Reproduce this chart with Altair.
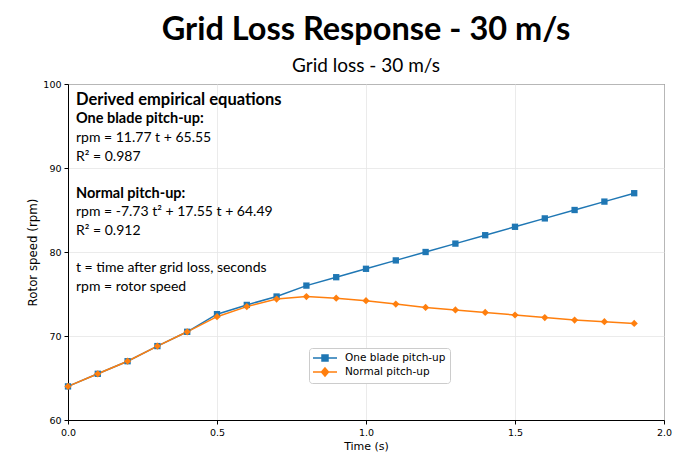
import altair as alt
import pandas as pd

# Rotor speed after grid loss at 30 m/s, sampled every 0.1 s
time_s = [0.0, 0.1, 0.2, 0.3, 0.4, 0.5, 0.6, 0.7, 0.8, 0.9,
          1.0, 1.1, 1.2, 1.3, 1.4, 1.5, 1.6, 1.7, 1.8, 1.9]
one_blade_rpm = [64.0, 65.5, 67.0, 68.8, 70.5, 72.6, 73.7, 74.7, 76.0, 77.0,
                 78.0, 79.0, 80.0, 81.0, 82.0, 83.0, 84.0, 85.0, 86.0, 87.0]
normal_rpm = [64.0, 65.5, 67.0, 68.8, 70.5, 72.3, 73.5, 74.4, 74.7, 74.5,
              74.2, 73.8, 73.4, 73.1, 72.8, 72.5, 72.2, 71.9, 71.7, 71.5]
series_names = ["One blade pitch-up", "Normal pitch-up"]
series_colors = ["#1f77b4", "#ff7f0e"]
series_shapes = ["square", "diamond"]
marker_sizes = [40, 52]

x_ticks = [0.0, 0.5, 1.0, 1.5, 2.0]
y_ticks = [60, 70, 80, 90, 100]

# Annotation text blocks
note_header = "Derived empirical equations"
note_one_title = "One blade pitch-up:"
note_one_lines = ["rpm = 11.77 t + 65.55", "R\u00b2 = 0.987"]
note_normal_title = "Normal pitch-up:"
note_normal_lines = ["rpm = -7.73 t\u00b2 + 17.55 t + 64.49", "R\u00b2 = 0.912"]
note_legend_lines = ["t = time after grid loss, seconds", "rpm = rotor speed"]

df = pd.DataFrame({
    "time": time_s * 2,
    "rpm": one_blade_rpm + normal_rpm,
    "series": [series_names[0]] * len(time_s) + [series_names[1]] * len(time_s),
})

W, H = 596, 336
axis_font = "DejaVu Sans"
note_font = "Lato"

# Legend glyphs: a short line segment with the series marker on it
legend_glyphs = [
    "M-2.4,0H2.4M-0.6,-0.6H0.6V0.6H-0.6Z",
    "M-2.4,0H2.4M0,-0.8L0.7,0L0,0.8L-0.7,0Z",
]

x_enc = alt.X("time:Q", title="Time (s)",
              scale=alt.Scale(domain=[0, 2], nice=False, zero=False),
              axis=alt.Axis(values=x_ticks, format=".1f", labelFlush=False,
                            titleFontSize=11, titlePadding=4))
y_enc = alt.Y("rpm:Q", title="Rotor speed (rpm)",
              scale=alt.Scale(domain=[60, 100], nice=False, zero=False),
              axis=alt.Axis(values=y_ticks, format="d", labelFlush=False,
                            titleFontSize=11.8, titlePadding=4))
color_scale = alt.Scale(domain=series_names, range=series_colors)

base = alt.Chart(df)

lines = base.mark_line(strokeWidth=1.5).encode(
    x=x_enc, y=y_enc,
    color=alt.Color("series:N", scale=color_scale, sort=series_names, title=None),
)

# Markers, one layer per series
marker_layers = [
    base.transform_filter(alt.datum.series == name).mark_point(
        filled=True, opacity=1, shape=shape, size=size, color=col,
    ).encode(x=x_enc, y=y_enc)
    for name, shape, size, col in zip(series_names, series_shapes, marker_sizes, series_colors)
]

# Legend-only layer: no rows are drawn, the scales carry the entries
legend_layer = base.transform_filter("false").mark_point(
    filled=False, opacity=1, strokeWidth=1.5, size=100,
).encode(
    x=x_enc, y=y_enc,
    color=alt.Color("series:N", scale=color_scale, sort=series_names, title=None),
    fill=alt.Fill("series:N", scale=color_scale, sort=series_names, title=None),
    shape=alt.Shape("series:N", scale=alt.Scale(domain=series_names, range=legend_glyphs),
                    sort=series_names, title=None),
)

one_row = pd.DataFrame({"k": [0]})


def note(text, y, bold=False, size=14.0):
    return alt.Chart(one_row).mark_text(
        text=text, align="left", baseline="middle", font=note_font,
        fontSize=size, fontWeight="bold" if bold else "normal",
        color="black", lineHeight=19,
    ).encode(x=alt.value(8), y=alt.value(y))


notes = [
    note(note_header, 16, bold=True, size=16.5),
    note(note_one_title, 35, bold=True, size=14.5),
    note(note_one_lines, 54),
    note(note_normal_title, 110, bold=True, size=14.5),
    note(note_normal_lines, 128),
    note(note_legend_lines, 184),
]

chart = alt.layer(lines, *marker_layers, legend_layer, *notes).properties(
    width=W, height=H,
    title=alt.TitleParams(
        text="Grid Loss Response - 30 m/s",
        subtitle="Grid loss - 30 m/s",
        font=note_font, fontSize=32.5, fontWeight="bold", color="black",
        subtitleFont=note_font, subtitleFontSize=19, subtitleColor="black",
        subtitlePadding=11, anchor="middle", offset=3,
    ),
    padding={"left": 68, "top": 84, "right": 24, "bottom": 44},
    autosize=alt.AutoSizeParams(type="none"),
).configure_view(
    stroke="black", strokeWidth=1,
).configure_axis(
    labelFont=axis_font, labelFontSize=9.5, labelColor="black",
    titleFont=axis_font, titleColor="black", titleFontWeight="normal",
    domainColor="black", domainWidth=1, tickColor="black", tickSize=4,
    gridColor="#e6e6e6", gridWidth=0.8, labelPadding=3,
).configure_legend(
    orient="none", legendX=241, legendY=264,
    strokeColor="#cccccc", fillColor="white", cornerRadius=3, padding=4,
    labelFont=axis_font, labelFontSize=10.5, labelColor="black",
    rowPadding=1, symbolOffset=6, labelOffset=14, symbolSize=100,
    symbolStrokeWidth=1.5,
)

chart.save("out.html", embed_options={"renderer": "svg", "actions": False})
